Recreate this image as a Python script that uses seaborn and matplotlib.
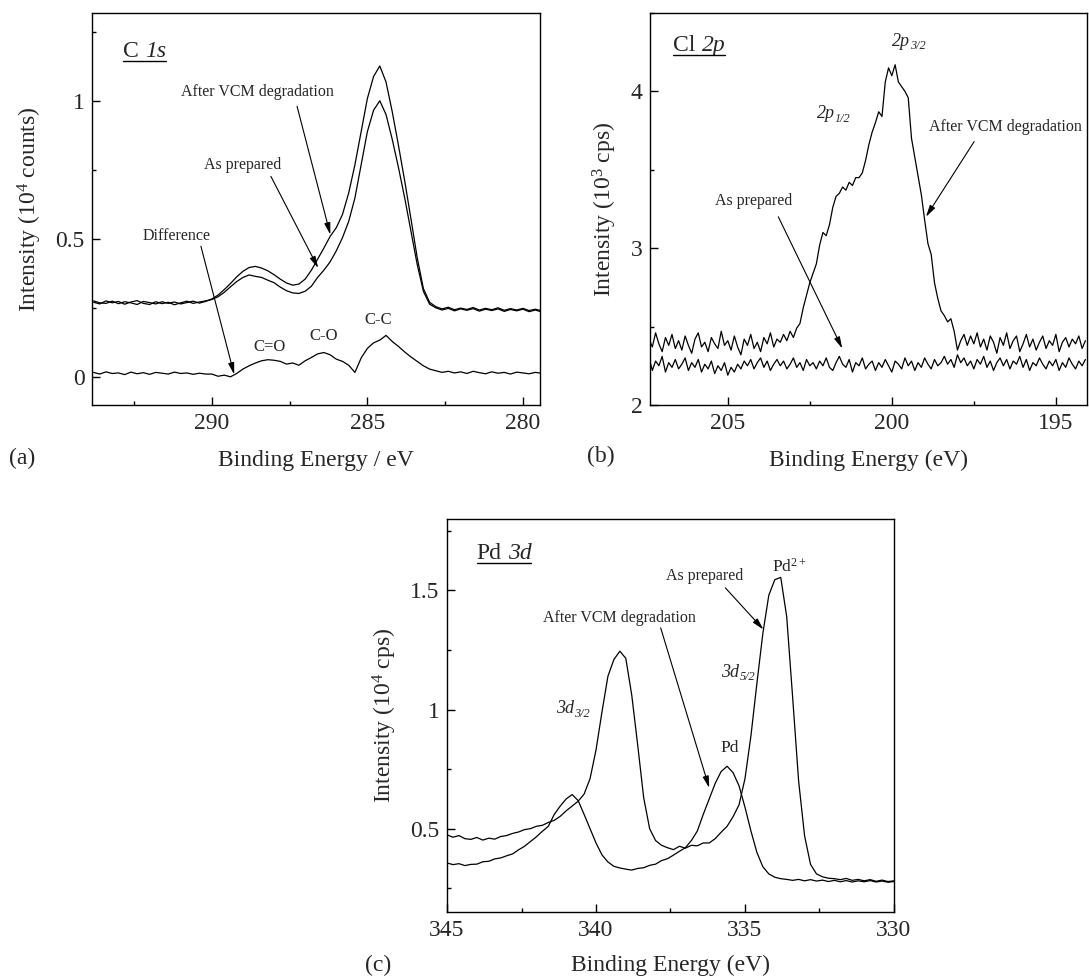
import numpy as np
import pandas as pd
import matplotlib
matplotlib.use("Agg")
import matplotlib.pyplot as plt
import seaborn as sns
from matplotlib.lines import Line2D
from matplotlib.ticker import MultipleLocator, FuncFormatter

# ---- C 1s (panel a), 0.2 eV steps from 293.8 down to 279.4 ----
c1s_energy = np.round(np.arange(293.8, 279.3, -0.2), 1)
c1s_prepared = [
    0.272, 0.266, 0.277, 0.270, 0.275, 0.265, 0.273, 0.278, 0.268, 0.264,
    0.274, 0.267, 0.272, 0.263, 0.270, 0.276, 0.268, 0.273, 0.277,
    0.282, 0.292, 0.308, 0.328, 0.347, 0.362, 0.371, 0.366, 0.362, 0.352,
    0.343, 0.327, 0.314, 0.306, 0.304, 0.312, 0.330, 0.362, 0.388, 0.418,
    0.458, 0.506, 0.565, 0.650, 0.770, 0.890, 0.968, 1.002, 0.952, 0.862,
    0.760, 0.650, 0.530, 0.410, 0.312, 0.265,
    0.252, 0.244, 0.250, 0.241, 0.248, 0.243, 0.249, 0.240, 0.247, 0.242,
    0.248, 0.239, 0.246, 0.241, 0.247, 0.238, 0.244, 0.237,
]
c1s_after = [
    0.277, 0.270, 0.268, 0.276, 0.267, 0.274, 0.270, 0.264, 0.275, 0.271,
    0.266, 0.274, 0.268, 0.273, 0.266, 0.271, 0.276, 0.269, 0.275,
    0.284, 0.298, 0.318, 0.340, 0.364, 0.384, 0.398, 0.402, 0.396, 0.386,
    0.372, 0.356, 0.342, 0.334, 0.338, 0.356, 0.388, 0.428, 0.468, 0.510,
    0.542, 0.590, 0.668, 0.770, 0.890, 1.010, 1.090, 1.128, 1.070, 0.962,
    0.840, 0.712, 0.575, 0.435, 0.322, 0.272,
    0.256, 0.248, 0.254, 0.245, 0.251, 0.246, 0.253, 0.244, 0.250, 0.245,
    0.252, 0.243, 0.249, 0.244, 0.250, 0.242, 0.247, 0.241,
]
c1s_difference = [
    0.018, 0.012, 0.020, 0.014, 0.016, 0.010, 0.019, 0.013, 0.017, 0.011,
    0.018, 0.015, 0.012, 0.019, 0.014, 0.016, 0.011, 0.015, 0.012,
    0.012, 0.004, 0.008, 0.002, 0.014, 0.030, 0.042, 0.052, 0.060, 0.064,
    0.062, 0.058, 0.048, 0.052, 0.044, 0.060, 0.072, 0.085, 0.090, 0.082,
    0.066, 0.058, 0.044, 0.018, 0.070, 0.105, 0.125, 0.135, 0.152, 0.130,
    0.112, 0.092, 0.074, 0.058, 0.042, 0.030,
    0.024, 0.018, 0.022, 0.016, 0.020, 0.014, 0.022, 0.017, 0.013, 0.020,
    0.015, 0.018, 0.012, 0.019, 0.016, 0.013, 0.018, 0.015,
]

# ---- Cl 2p (panel b), 0.1 eV steps from 207.4 down to 194.1 ----
cl2p_energy = np.round(np.arange(207.4, 194.05, -0.1), 1)
cl2p_after = [
    2.42, 2.37, 2.46, 2.39, 2.34, 2.43, 2.38, 2.45, 2.36, 2.41,
    2.35, 2.44, 2.38, 2.33, 2.42, 2.46, 2.37, 2.40, 2.34, 2.43,
    2.39, 2.36, 2.47, 2.38, 2.41, 2.35, 2.44, 2.37, 2.32, 2.42,
    2.38, 2.45, 2.36, 2.40, 2.34, 2.43, 2.39, 2.46, 2.37, 2.42,
    2.40, 2.45, 2.41, 2.47, 2.43, 2.49, 2.52, 2.62, 2.70, 2.78,
    2.84, 2.90, 3.02, 3.10, 3.08, 3.15, 3.26, 3.33, 3.35, 3.39,
    3.37, 3.42, 3.40, 3.45, 3.45, 3.48, 3.56, 3.66, 3.74, 3.80,
    3.87, 3.84, 4.06, 4.15, 4.10, 4.17, 4.06, 4.03, 4.00, 3.96,
    3.70, 3.58, 3.46, 3.34, 3.18, 3.03, 2.96, 2.78, 2.68, 2.60,
    2.57, 2.53, 2.55, 2.47, 2.35, 2.41, 2.45, 2.38, 2.44, 2.39,
    2.46, 2.37, 2.42, 2.35, 2.44, 2.40, 2.33, 2.43, 2.38, 2.46,
    2.36, 2.41, 2.44, 2.34, 2.39, 2.45, 2.37, 2.42, 2.35, 2.40,
    2.44, 2.36, 2.41, 2.38, 2.45, 2.34, 2.40, 2.43, 2.37, 2.42,
    2.39, 2.44, 2.36, 2.41,
]
cl2p_prepared = [
    2.30, 2.22, 2.28, 2.25, 2.31, 2.21, 2.27, 2.24, 2.29, 2.23,
    2.26, 2.30, 2.22, 2.27, 2.24, 2.29, 2.21, 2.26, 2.23, 2.28,
    2.20, 2.25, 2.22, 2.27, 2.19, 2.24, 2.21, 2.26, 2.23, 2.28,
    2.25, 2.29, 2.23, 2.27, 2.30, 2.24, 2.28, 2.22, 2.26, 2.29,
    2.25, 2.28, 2.23, 2.26, 2.30, 2.24, 2.27, 2.22, 2.29, 2.25,
    2.27, 2.23, 2.28, 2.25, 2.30, 2.24, 2.22, 2.27, 2.31, 2.26,
    2.24, 2.29, 2.21, 2.27, 2.25, 2.30, 2.23, 2.26, 2.28, 2.22,
    2.27, 2.24, 2.29, 2.25, 2.21, 2.28, 2.26, 2.23, 2.30, 2.25,
    2.28, 2.22, 2.27, 2.24, 2.30, 2.26, 2.23, 2.29, 2.25, 2.27,
    2.31, 2.26, 2.29, 2.24, 2.32, 2.27, 2.30, 2.25, 2.28, 2.23,
    2.29, 2.26, 2.31, 2.24, 2.28, 2.22, 2.27, 2.30, 2.25, 2.29,
    2.23, 2.28, 2.26, 2.31, 2.24, 2.29, 2.22, 2.27, 2.25, 2.30,
    2.26, 2.23, 2.28, 2.25, 2.29, 2.22, 2.27, 2.24, 2.30, 2.26,
    2.23, 2.28, 2.25, 2.29,
]

# ---- Pd 3d (panel c), 0.2 eV steps from 345.0 down to 330.0 ----
pd3d_energy = np.round(np.arange(345.0, 329.9, -0.2), 1)
pd3d_prepared = [
    0.474, 0.464, 0.471, 0.458, 0.455, 0.463, 0.452, 0.460, 0.456, 0.467,
    0.471, 0.480, 0.486, 0.496, 0.500, 0.510, 0.514, 0.526, 0.535, 0.552,
    0.575, 0.595, 0.615, 0.645, 0.710, 0.830, 0.990, 1.140, 1.210, 1.245,
    1.215, 1.060, 0.850, 0.630, 0.500, 0.450, 0.430, 0.420, 0.412, 0.426,
    0.418, 0.430, 0.428, 0.440, 0.440, 0.458, 0.485, 0.510, 0.550, 0.600,
    0.710, 0.890, 1.110, 1.320, 1.480, 1.545, 1.555, 1.390, 1.050, 0.700,
    0.470, 0.350, 0.310, 0.298, 0.292, 0.290, 0.286, 0.291, 0.283, 0.287,
    0.281, 0.286, 0.279, 0.284, 0.278, 0.281,
]
pd3d_after = [
    0.356, 0.349, 0.353, 0.345, 0.350, 0.351, 0.361, 0.363, 0.373, 0.377,
    0.386, 0.394, 0.411, 0.426, 0.446, 0.466, 0.489, 0.510, 0.560, 0.595,
    0.625, 0.643, 0.618, 0.560, 0.500, 0.440, 0.390, 0.360, 0.342, 0.335,
    0.330, 0.326, 0.333, 0.336, 0.346, 0.351, 0.366, 0.374, 0.389, 0.405,
    0.420, 0.450, 0.490, 0.560, 0.625, 0.690, 0.740, 0.762, 0.735, 0.680,
    0.590, 0.490, 0.400, 0.340, 0.310, 0.296, 0.290, 0.287, 0.283, 0.287,
    0.281, 0.286, 0.280, 0.284, 0.278, 0.283, 0.277, 0.282, 0.276, 0.281,
    0.277, 0.282, 0.276, 0.280, 0.275, 0.278,
]

sns.set_style("ticks", {"xtick.direction": "in", "ytick.direction": "in"})
plt.rcParams["font.family"] = ["Liberation Serif", "DejaVu Serif"]
plt.rcParams["mathtext.fontset"] = "custom"
plt.rcParams["mathtext.rm"] = "Liberation Serif"
plt.rcParams["mathtext.it"] = "Liberation Serif:italic"
plt.rcParams["axes.linewidth"] = 1.0
plt.rcParams["axes.edgecolor"] = "black"

TICK_FS = 17
ANNOT_FS = 11.5

fig = plt.figure(figsize=(10.89, 9.77), dpi=100)
ax_a = fig.add_axes([0.0845, 0.5855, 0.4114, 0.4012])
ax_b = fig.add_axes([0.5969, 0.5855, 0.4013, 0.4012])
ax_c = fig.add_axes([0.4105, 0.0665, 0.4104, 0.4023])


def draw_spectrum(ax, energy, curves):
    for y in curves:
        df = pd.DataFrame({"energy": energy, "intensity": y})
        sns.lineplot(data=df, x="energy", y="intensity", ax=ax, color="black",
                     linewidth=0.9, estimator=None, sort=False)


def style_axes(ax, xlim, ylim, xmaj, ymaj, xlabel, ylabel, xpad=12):
    ax.set_xlim(*xlim)
    ax.set_ylim(*ylim)
    ax.xaxis.set_major_locator(MultipleLocator(xmaj))
    ax.xaxis.set_minor_locator(MultipleLocator(xmaj / 2))
    ax.yaxis.set_major_locator(MultipleLocator(ymaj))
    ax.yaxis.set_minor_locator(MultipleLocator(ymaj / 2))
    ax.yaxis.set_major_formatter(FuncFormatter(lambda v, p: f"{v:g}"))
    ax.xaxis.set_major_formatter(FuncFormatter(lambda v, p: f"{v:g}"))
    ax.tick_params(which="both", direction="in", top=False, right=False,
                   labelsize=TICK_FS, width=1.0, color="black")
    ax.tick_params(which="major", length=6, pad=5.5)
    ax.tick_params(which="minor", length=3)
    ax.set_xlabel(xlabel, fontsize=TICK_FS, labelpad=xpad)
    ax.set_ylabel(ylabel, fontsize=TICK_FS, labelpad=8)
    for s in ax.spines.values():
        s.set_visible(True)
        s.set_color("black")


def arrow(ax, start, end):
    ax.annotate("", xy=end, xytext=start,
                arrowprops=dict(arrowstyle="-|>,head_length=0.7,head_width=0.18",
                                color="black", lw=0.8, shrinkA=0, shrinkB=0))


def core_title(ax, x, y, element, level):
    # element upright, orbital italic, whole thing underlined later
    t1 = ax.text(x, y, element, fontsize=17, ha="left", va="center")
    t2 = ax.annotate(level, xy=(1, 0), xycoords=t1, xytext=(4.2, 0),
                     textcoords="offset points", fontsize=17, style="italic",
                     ha="left", va="bottom")
    return t1, t2


def orbital_label(ax, x, y, base, sub, fs=13):
    t1 = ax.annotate(base, xy=(x, y), xytext=(-5, 0), textcoords="offset points",
                     fontsize=fs, style="italic", ha="center", va="center")
    ax.annotate(sub, xy=(1, 0), xycoords=t1, xytext=(0.3, -2),
                textcoords="offset points", fontsize=fs * 0.68, style="italic",
                ha="left", va="bottom")


# panel (a)
draw_spectrum(ax_a, c1s_energy, [c1s_prepared, c1s_after, c1s_difference])
style_axes(ax_a, (293.85, 279.45), (-0.1, 1.32), 5, 0.5,
           "Binding Energy / eV", r"Intensity (10$^{\mathrm{4}}$ counts)")
title_a = core_title(ax_a, 292.84, 1.18, "C", "1s")
ax_a.text(288.52, 1.033, "After VCM degradation", fontsize=ANNOT_FS, ha="center", va="center")
arrow(ax_a, (287.26, 0.982), (286.19, 0.517))
ax_a.text(289.0, 0.768, "As prepared", fontsize=ANNOT_FS, ha="center", va="center")
arrow(ax_a, (288.1, 0.728), (286.58, 0.396))
ax_a.text(291.13, 0.513, "Difference", fontsize=ANNOT_FS, ha="center", va="center")
arrow(ax_a, (290.35, 0.475), (289.28, 0.01))
ax_a.text(288.13, 0.11, "C=O", fontsize=12, ha="center", va="center")
ax_a.text(286.39, 0.149, "C-O", fontsize=12, ha="center", va="center")
ax_a.text(284.64, 0.209, "C-C", fontsize=12, ha="center", va="center")

# panel (b)
draw_spectrum(ax_b, cl2p_energy, [cl2p_after, cl2p_prepared])
style_axes(ax_b, (207.37, 194.05), (2, 4.5), 5, 1,
           "Binding Energy (eV)", r"Intensity (10$^{\mathrm{3}}$ cps)")
title_b = core_title(ax_b, 206.66, 4.29, "Cl", "2p")
orbital_label(ax_b, 199.52, 4.32, "2p", "3/2")
orbital_label(ax_b, 201.81, 3.86, "2p", "1/2")
ax_b.text(196.54, 3.77, "After VCM degradation", fontsize=ANNOT_FS, ha="center", va="center")
arrow(ax_b, (197.49, 3.68), (198.96, 3.2))
ax_b.text(204.21, 3.30, "As prepared", fontsize=ANNOT_FS, ha="center", va="center")
arrow(ax_b, (203.46, 3.20), (201.51, 2.36))

# panel (c)
draw_spectrum(ax_c, pd3d_energy, [pd3d_prepared, pd3d_after])
style_axes(ax_c, (345, 330), (0.15, 1.8), 5, 0.5,
           "Binding Energy (eV)", r"Intensity (10$^{\mathrm{4}}$ cps)", xpad=10)
title_c = core_title(ax_c, 344.0, 1.655, "Pd", "3d")
ax_c.text(336.36, 1.56, "As prepared", fontsize=ANNOT_FS, ha="center", va="center")
arrow(ax_c, (335.66, 1.511), (334.38, 1.336))
ax_c.text(333.51, 1.60, r"Pd$^{\mathrm{2+}}$", fontsize=12.5, ha="center", va="center")
ax_c.text(339.2, 1.385, "After VCM degradation", fontsize=ANNOT_FS, ha="center", va="center")
arrow(ax_c, (337.83, 1.343), (336.2, 0.671))
orbital_label(ax_c, 340.81, 1.003, "3d", "3/2")
orbital_label(ax_c, 335.27, 1.157, "3d", "5/2")
ax_c.text(335.5, 0.839, "Pd", fontsize=12.5, ha="center", va="center")

# panel letters
fig.text(0.020, 0.531, "(a)", fontsize=17, ha="center", va="center")
fig.text(0.552, 0.533, "(b)", fontsize=17, ha="center", va="center")
fig.text(0.347, 0.012, "(c)", fontsize=17, ha="center", va="center")

# underline the core-level titles
fig.canvas.draw()
inv = fig.transFigure.inverted()
for t1, t2 in (title_a, title_b, title_c):
    b1 = t1.get_window_extent()
    b2 = t2.get_window_extent()
    y_line = min(b1.y0, b2.y0) + 1.5
    (x0, y0), (x1, _) = inv.transform([(b1.x0, y_line), (b2.x1, y_line)])
    fig.add_artist(Line2D([x0, x1], [y0, y0], transform=fig.transFigure,
                          color="black", lw=1.0))

fig.savefig("out.png", dpi=100)
